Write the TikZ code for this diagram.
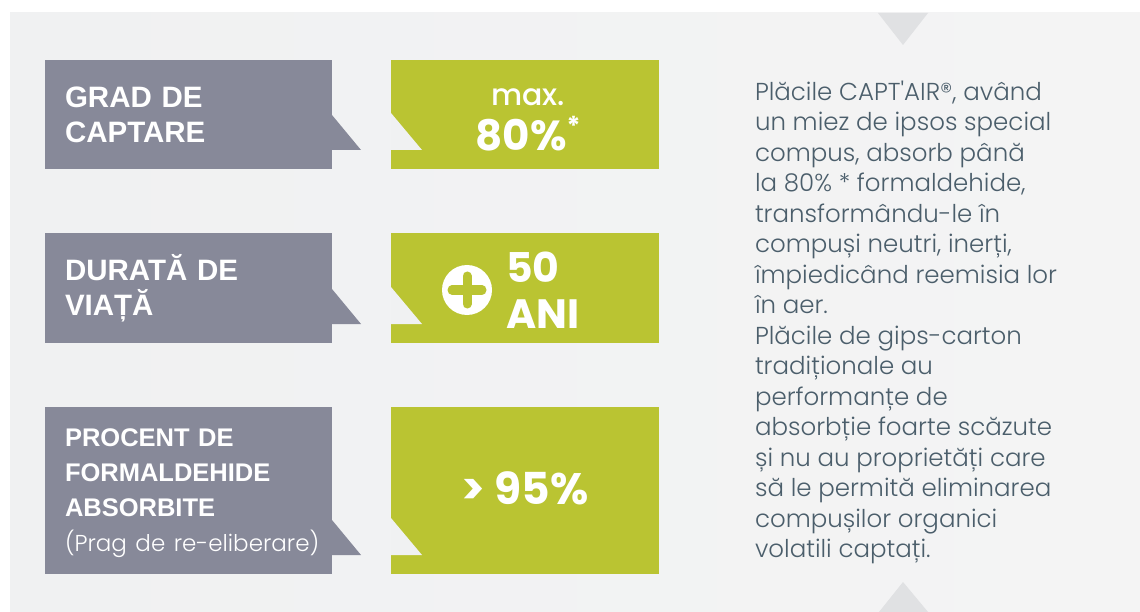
\documentclass[tikz,border=0pt]{standalone}
\usepackage{fontspec}
\setmainfont{Liberation Sans}
\newfontfamily\poplight{Poppins Light}
\newfontfamily\popmed{Poppins Medium}
\newfontfamily\popbold{Poppins Bold}
\usetikzlibrary{positioning}
\definecolor{panel}{HTML}{F0F1F2}
\definecolor{panelright}{HTML}{F4F4F4}
\definecolor{slate}{HTML}{878999}
\definecolor{lime}{HTML}{BAC432}
\definecolor{pointer}{HTML}{E0E1E3}
\definecolor{body}{HTML}{4B5E6B}

\begin{document}
\begin{tikzpicture}[x=1pt,y=-1pt,inner sep=0pt,outer sep=0pt,
                    node distance=64pt]
    \tikzset{label box/.style={rectangle,fill=slate,text=white,minimum width=287pt,
               text width=247pt,inner xsep=20pt,align=left,
               font=\bfseries\fontsize{29.5}{35}\selectfont},
             value box/.style={rectangle,fill=lime,text=white,minimum width=268pt,
               align=center},
             tab/.style={fill=slate},
             notch/.style={fill=panel}}
    \useasboundingbox (0,0) rectangle (1140,612);
    \fill[white] (0,0) rectangle (1140,612);
    \shade[left color=panel,right color=panelright] (10,13) rectangle (1140,612);
    \fill[fill=pointer] (878,13) -- (928,13) -- (903,45) -- cycle;
    \fill[fill=pointer] (879,612) -- (928,612) -- (903,582) -- cycle;
    \node[label box,minimum height=109pt,anchor=north west] (g1) at (45,60)
        {GRAD DE\\CAPTARE};
    \node[label box,minimum height=110pt] (g2) [below=of g1]
        {DURATĂ DE\\VIAȚĂ};
    \node[label box,minimum height=167pt,font=\bfseries\fontsize{25.5}{35}\selectfont] (g3) [below=of g2]
        {\rule{0pt}{24pt}PROCENT DE\\FORMALDEHIDE\\ABSORBITE\\\mbox{\mdseries\poplight\fontsize{23}{35}\selectfont (Prag de re-eliberare)}};
    \node[value box,minimum height=109pt] (v1) [right=59pt of g1] {};
    \node[value box,minimum height=110pt] (v2) [right=59pt of g2] {};
    \node[value box,minimum height=167pt] (v3) [right=59pt of g3] {};
    \foreach \n in {1,2,3}{
        \fill[tab] (g\n.south east) ++(0,-54) -- ++(29,35) -- ++(-29,0) -- cycle;
        \fill[notch] (v\n.south west) ++(0,-56) -- ++(31,37) -- ++(-31,0) -- cycle;
    }
    \node[text=white,align=center,font=\fontsize{30}{45}\selectfont] (cap) at (528,120)
        {{\popmed max.}\\
         {\popbold\fontsize{42}{45}\selectfont 80\%\raisebox{15pt}{\fontsize{26}{26}\selectfont *}}};
    \node[circle,fill=white,minimum size=50pt] (plus) at (467,290) {};
    \draw[lime,line width=9pt,line cap=round] (plus.center) ++(-15,0) -- ++(30,0)
        (plus.center) ++(0,-14) -- ++(0,28);
    \node[text=white,align=left,right=14pt of plus,
          font=\popbold\fontsize{41}{46}\selectfont] (life) {50\\ANI};
    \node[text=white,font=\popbold\fontsize{44}{44}\selectfont] (pct) at ([yshift=2pt]v3.center)
        {> 95\%};
    \node[text=body,align=left,anchor=north west,
          font=\poplight\fontsize{24.5}{30.5}\selectfont] (desc) at (755,81)
        {Plăcile CAPT'AIR®, având\\
         un miez de ipsos special\\
         compus, absorb până\\
         la 80\% * formaldehide,\\
         transformându-le în\\
         compuși neutri, inerți,\\
         împiedicând reemisia lor\\
         în aer.\\
         Plăcile de gips-carton\\
         tradiționale au\\
         performanțe de\\
         absorbție foarte scăzute\\
         și nu au proprietăți care\\
         să le permită eliminarea\\
         compușilor organici\\
         volatili captați.};
\end{tikzpicture}
\end{document}
